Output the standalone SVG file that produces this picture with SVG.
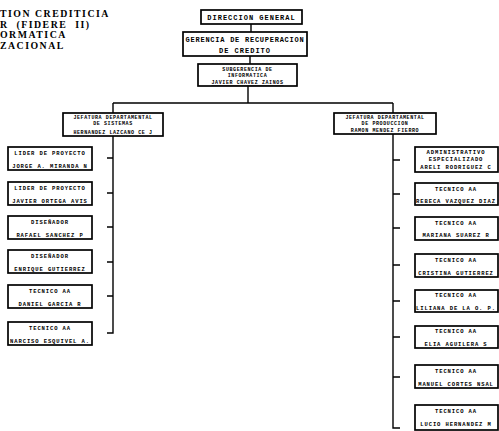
<svg xmlns="http://www.w3.org/2000/svg" width="499" height="431" viewBox="0 0 499 431">
<style>
.t{font-family:"Liberation Serif",serif;font-weight:bold;font-size:9.8px;letter-spacing:1.5px;fill:#000}
.box{fill:#fff;stroke:#000;stroke-width:1.7}
.l{font-family:"Liberation Mono",monospace;font-weight:bold;font-size:5.5px;letter-spacing:0.9px;text-anchor:middle;fill:#000}
.b{font-size:7px;letter-spacing:1px}
.g{letter-spacing:0.75px}
.s{font-size:5px;letter-spacing:0.6px}
.c{stroke:#000;stroke-width:1.4;fill:none}
</style>
<rect width="499" height="431" fill="#fff"/>
<g id="title">
<text class="t" x="0" y="17">TION CREDITICIA</text>
<text class="t" x="0" y="27.5" xml:space="preserve">R  (FIDERE  II)</text>
<text class="t" x="0" y="38">ORMATICA</text>
<text class="t" x="0" y="48.5">ZACIONAL</text>
</g>
<g id="connectors">
<path class="c" d="M251 24V32M250 56V64M248 86V103M113 103H393M113 103V113M393 103V113"/>
<path class="c" d="M113 136V333H107M107 158H113M107 193H113M107 227H113M107 262H113M107 296H113"/>
<path class="c" d="M393 134V428H400M393 160H400M393 194H400M393 228H400M393 265H400M393 301H400M393 337H400M393 377H400"/>
</g>
<g id="n-direccion"><rect class="box" x="201" y="10" width="101" height="14"/><text class="l b" x="251.5" y="20">DIRECCION GENERAL</text></g>
<g id="n-gerencia"><rect class="box" x="183" y="32" width="124" height="24"/><text class="l b g" x="245" y="42">GERENCIA DE RECUPERACION</text><text class="l b" x="245" y="53">DE CREDITO</text></g>
<g id="n-subgerencia"><rect class="box" x="198" y="64" width="99" height="22"/><text class="l s" x="247.5" y="71">SUBGERENCIA DE</text><text class="l s" x="247.5" y="77">INFORMATICA</text><text class="l s" x="247.5" y="84" text-decoration="underline">JAVIER CHAVEZ ZAINOS</text></g>
<g id="n-sistemas"><rect class="box" x="63" y="113" width="100" height="23"/><text class="l s" x="113" y="119">JEFATURA DEPARTAMENTAL</text><text class="l s" x="113" y="125">DE SISTEMAS</text><text class="l s" x="113" y="134">HERNANDEZ LAZCANO CE J</text></g>
<g id="n-produccion"><rect class="box" x="334" y="113" width="102" height="21"/><text class="l s" x="385" y="119">JEFATURA DEPARTAMENTAL</text><text class="l s" x="385" y="125">DE PRODUCCION</text><text class="l s" x="385" y="132">RAMON MENDEZ FIERRO</text></g>
<g id="n-l1"><rect class="box" x="8" y="147" width="84" height="23"/><text class="l" x="50" y="155">LIDER DE PROYECTO</text><text class="l" x="50" y="168">JORGE A. MIRANDA N</text></g>
<g id="n-l2"><rect class="box" x="8" y="182" width="84" height="23"/><text class="l" x="50" y="190">LIDER DE PROYECTO</text><text class="l" x="50" y="203">JAVIER ORTEGA AVIS</text></g>
<g id="n-l3"><rect class="box" x="8" y="216" width="84" height="23"/><text class="l" x="50" y="224">DISEÑADOR</text><text class="l" x="50" y="237">RAFAEL SANCHEZ P</text></g>
<g id="n-l4"><rect class="box" x="8" y="250" width="84" height="23"/><text class="l" x="50" y="258">DISEÑADOR</text><text class="l" x="50" y="271">ENRIQUE GUTIERREZ</text></g>
<g id="n-l5"><rect class="box" x="8" y="285" width="84" height="23"/><text class="l" x="50" y="293">TECNICO AA</text><text class="l" x="50" y="306">DANIEL GARCIA R</text></g>
<g id="n-l6"><rect class="box" x="8" y="322" width="84" height="23"/><text class="l" x="50" y="330">TECNICO AA</text><text class="l" x="50" y="343">NARCISO ESQUIVEL A.</text></g>
<g id="n-r1"><rect class="box" x="415" y="147" width="83" height="25"/><text class="l" x="456" y="154">ADMINISTRATIVO</text><text class="l" x="456" y="161">ESPECIALIZADO</text><text class="l" x="456" y="169">ARELI RODRIGUEZ C</text></g>
<g id="n-r2"><rect class="box" x="415" y="183" width="83" height="22"/><text class="l" x="456" y="191">TECNICO AA</text><text class="l" x="456" y="203">REBECA VAZQUEZ DIAZ</text></g>
<g id="n-r3"><rect class="box" x="415" y="217" width="83" height="23"/><text class="l" x="456" y="225">TECNICO AA</text><text class="l" x="456" y="237">MARIANA SUAREZ R</text></g>
<g id="n-r4"><rect class="box" x="415" y="254" width="83" height="23"/><text class="l" x="456" y="262">TECNICO AA</text><text class="l" x="456" y="275">CRISTINA GUTIERREZ</text></g>
<g id="n-r5"><rect class="box" x="415" y="290" width="83" height="22"/><text class="l" x="456" y="297">TECNICO AA</text><text class="l" x="456" y="310">LILIANA DE LA O. P.</text></g>
<g id="n-r6"><rect class="box" x="415" y="326" width="83" height="22"/><text class="l" x="456" y="333">TECNICO AA</text><text class="l" x="456" y="346">ELIA AGUILERA S</text></g>
<g id="n-r7"><rect class="box" x="415" y="365" width="83" height="23"/><text class="l" x="456" y="373">TECNICO AA</text><text class="l" x="456" y="386">MANUEL CORTES NSAL</text></g>
<g id="n-r8"><rect class="box" x="415" y="405" width="83" height="25"/><text class="l" x="456" y="413">TECNICO AA</text><text class="l" x="456" y="426">LUCIO HERNANDEZ M</text></g>
</svg>
